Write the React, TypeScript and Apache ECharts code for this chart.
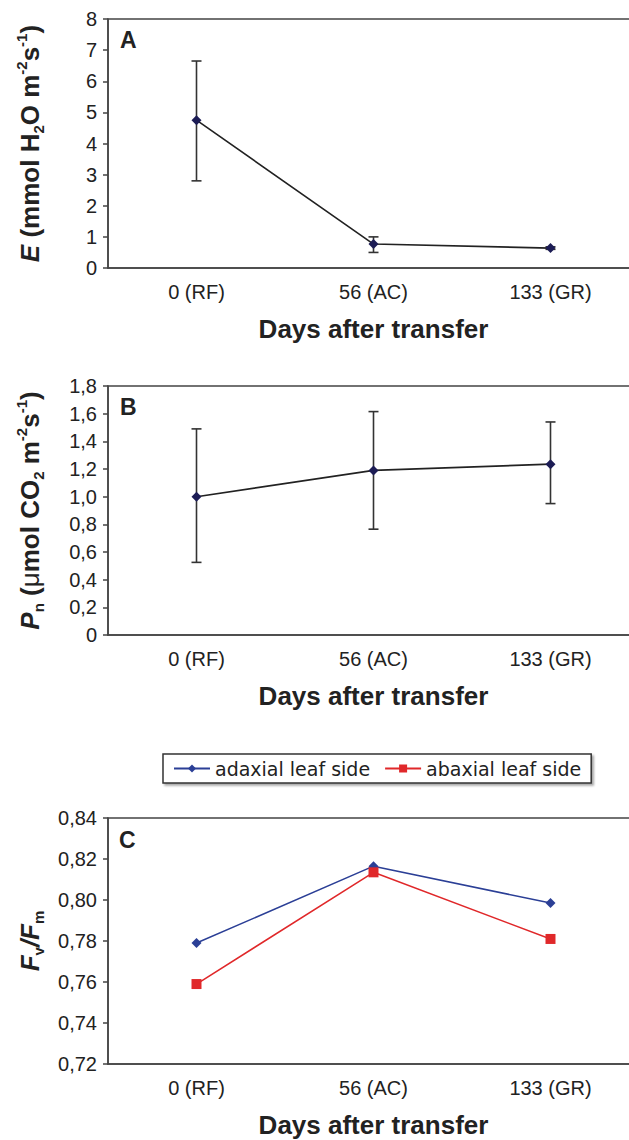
import React, { useEffect, useRef } from "react";
import * as echarts from "echarts";

const categories = ["0 (RF)", "56 (AC)", "133 (GR)"];

// Panel A: transpiration E
const eMean = [4.75, 0.77, 0.64];
const eLow = [2.8, 0.5, 0.6];
const eHigh = [6.65, 1.0, 0.68];
const eTicks = { min: 0, max: 8, interval: 1 };

// Panel B: net photosynthesis Pn
const pnMean = [1.0, 1.19, 1.235];
const pnLow = [0.525, 0.765, 0.95];
const pnHigh = [1.49, 1.615, 1.54];
const pnTicks = { min: 0, max: 1.8, interval: 0.2 };

// Panel C: Fv/Fm
const fvAdaxial = [0.779, 0.8165, 0.7985];
const fvAbaxial = [0.759, 0.8135, 0.781];
const fvTicks = { min: 0.72, max: 0.84, interval: 0.02 };

const seriesNames = ["adaxial leaf side", "abaxial leaf side"];
const xTitle = "Days after transfer";

const FONT = "'Liberation Sans', Arial, sans-serif";
const AXIS = "#444";
const TXT = "#222";

const rich = {
  i: { fontSize: 26, fontWeight: "bold", fontStyle: "italic", fontFamily: FONT, color: TXT, lineHeight: 32, verticalAlign: "middle" },
  b: { fontSize: 26, fontWeight: "bold", fontFamily: FONT, color: TXT, lineHeight: 32, verticalAlign: "middle" },
  g: { fontSize: 26, fontWeight: "normal", fontFamily: FONT, color: TXT, lineHeight: 32, verticalAlign: "middle" },
  sub: { fontSize: 15, fontWeight: "bold", fontFamily: FONT, color: TXT, lineHeight: 32, verticalAlign: "bottom" },
  sup: { fontSize: 15, fontWeight: "bold", fontFamily: FONT, color: TXT, lineHeight: 32, verticalAlign: "top" },
};

function errorRender(params: any, api: any) {
  const x = api.value(0);
  const lo = api.coord([x, api.value(1)]);
  const hi = api.coord([x, api.value(2)]);
  const w = 5;
  const style = { stroke: "#333", lineWidth: 1.6 };
  return {
    type: "group",
    children: [
      { type: "line", shape: { x1: lo[0], y1: lo[1], x2: hi[0], y2: hi[1] }, style },
      { type: "line", shape: { x1: lo[0] - w, y1: lo[1], x2: lo[0] + w, y2: lo[1] }, style },
      { type: "line", shape: { x1: hi[0] - w, y1: hi[1], x2: hi[0] + w, y2: hi[1] }, style },
    ],
  };
}

function fmtComma(d: number) {
  return (v: number) => (Math.abs(v) < 1e-9 ? "0" : v.toFixed(d).replace(".", ","));
}

export default function App() {
  const ref = useRef<HTMLDivElement>(null);
  useEffect(() => {
    if (!ref.current) return;
    const chart = echarts.init(ref.current, null, { renderer: "svg" });

    const grids = [
      { left: 108, top: 19, width: 531, height: 249 },
      { left: 108, top: 386, width: 531, height: 249 },
      { left: 108, top: 818, width: 531, height: 246 },
    ].map((g) => ({ ...g, show: true, borderColor: AXIS, borderWidth: 1.5, backgroundColor: "transparent" }));

    const xAxes = [0, 1, 2].map((i) => ({
      type: "category",
      gridIndex: i,
      data: categories,
      boundaryGap: true,
      axisLine: { lineStyle: { color: AXIS, width: 1.5 } },
      axisTick: { alignWithLabel: true, length: 5, lineStyle: { color: AXIS, width: 1.5 } },
      axisLabel: { fontSize: 20, fontFamily: FONT, color: TXT, margin: 14 },
      name: xTitle,
      nameLocation: "middle",
      nameGap: 48,
      nameTextStyle: { fontSize: 26, fontWeight: "bold", fontFamily: FONT, color: TXT },
      splitLine: { show: false },
    }));

    const yBase = (i: number, t: any, fmt: any, name: string) => ({
      type: "value",
      gridIndex: i,
      min: t.min,
      max: t.max,
      interval: t.interval,
      axisLine: { show: true, lineStyle: { color: AXIS, width: 1.5 } },
      axisTick: { show: true, length: 5, lineStyle: { color: AXIS, width: 1.5 } },
      axisLabel: { fontSize: 20, fontFamily: FONT, color: TXT, margin: 11, formatter: fmt },
      splitLine: { show: false },
      name,
      nameLocation: "middle",
      nameRotate: 90,
      nameGap: 62,
      nameTextStyle: { rich },
    });

    const yAxes = [
      yBase(0, eTicks, (v: number) => String(Math.round(v)), "{i|E}{b| (mmol H}{sub|2}{b|O m}{sup|-2}{b|s}{sup|-1}{b|)}"),
      yBase(1, pnTicks, fmtComma(1), "{i|P}{sub|n}{b| (}{g|μ}{b|mol CO}{sub|2}{b| m}{sup|-2}{b|s}{sup|-1}{b|)}"),
      yBase(2, fvTicks, fmtComma(2), "{i|F}{sub|v}{i|/F}{sub|m}"),
    ];

    const navy = "#1c1c55";
    const option: any = {
      animation: false,
      backgroundColor: "#fff",
      grid: grids,
      xAxis: xAxes,
      yAxis: yAxes,
      legend: {
        data: seriesNames,
        left: 163,
        top: 754,
        padding: [5, 10],
        itemGap: 14,
        itemWidth: 36,
        itemHeight: 10,
        borderColor: "#333",
        borderWidth: 1.5,
        shadowColor: "rgba(0,0,0,0.35)",
        shadowBlur: 2,
        shadowOffsetX: 2,
        shadowOffsetY: 2,
        backgroundColor: "#fff",
        textStyle: { fontSize: 19, fontFamily: "'DejaVu Sans', sans-serif", color: TXT },
      },
      graphic: [
        { type: "text", left: 120, top: 28, style: { text: "A", fontSize: 23, fontWeight: "bold", fontFamily: FONT, fill: TXT } },
        { type: "text", left: 120, top: 395, style: { text: "B", fontSize: 23, fontWeight: "bold", fontFamily: FONT, fill: TXT } },
        { type: "text", left: 119, top: 828, style: { text: "C", fontSize: 23, fontWeight: "bold", fontFamily: FONT, fill: TXT } },
      ],
      series: [
        {
          type: "custom",
          xAxisIndex: 0,
          yAxisIndex: 0,
          renderItem: errorRender,
          data: categories.map((_, k) => [k, eLow[k], eHigh[k]]),
          encode: { x: 0, y: [1, 2] },
          z: 1,
        },
        {
          type: "line",
          xAxisIndex: 0,
          yAxisIndex: 0,
          data: eMean,
          symbol: "diamond",
          symbolSize: 10,
          itemStyle: { color: navy },
          lineStyle: { color: "#222", width: 1.6 },
          z: 3,
        },
        {
          type: "custom",
          xAxisIndex: 1,
          yAxisIndex: 1,
          renderItem: errorRender,
          data: categories.map((_, k) => [k, pnLow[k], pnHigh[k]]),
          encode: { x: 0, y: [1, 2] },
          z: 1,
        },
        {
          type: "line",
          xAxisIndex: 1,
          yAxisIndex: 1,
          data: pnMean,
          symbol: "diamond",
          symbolSize: 10,
          itemStyle: { color: navy },
          lineStyle: { color: "#222", width: 1.6 },
          z: 3,
        },
        {
          name: seriesNames[0],
          type: "line",
          xAxisIndex: 2,
          yAxisIndex: 2,
          data: fvAdaxial,
          symbol: "diamond",
          symbolSize: 10,
          itemStyle: { color: "#2b3f96" },
          lineStyle: { color: "#2b3f96", width: 1.5 },
          z: 3,
        },
        {
          name: seriesNames[1],
          type: "line",
          xAxisIndex: 2,
          yAxisIndex: 2,
          data: fvAbaxial,
          symbol: "rect",
          symbolSize: 10,
          itemStyle: { color: "#e0282a" },
          lineStyle: { color: "#e0282a", width: 1.5 },
          z: 3,
        },
      ],
    };
    chart.setOption(option);
    return () => chart.dispose();
  }, []);
  return (
    <div style={{ position: "absolute", left: 0, top: 0, width: 629, height: 1140, overflow: "hidden", background: "#fff" }}>
      <div ref={ref} style={{ width: 660, height: 1140 }} />
    </div>
  );
}
